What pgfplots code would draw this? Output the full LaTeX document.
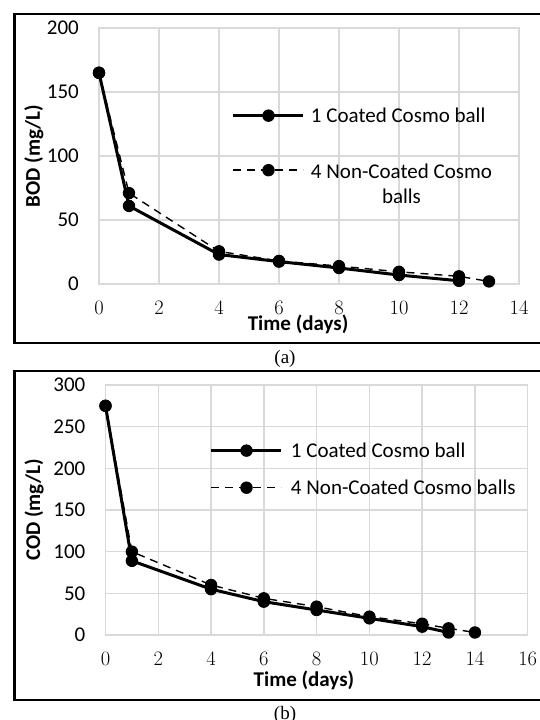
\documentclass[border=0pt]{standalone}
\usepackage{fontspec}
\setmainfont{Carlito}
\newfontfamily\capfont{Liberation Serif}
\usepackage{pgfplots}
\pgfplotsset{compat=1.18}
\definecolor{gridgray}{HTML}{D9D9D9}
\pgfplotsset{
 mystyle/.style={
  scale only axis, clip=false, enlargelimits=false,
  axis line style={draw=gridgray, line width=1.5pt},
  grid=major, grid style={draw=gridgray, line width=1.5pt},
  major tick length=0pt, tick style={draw=none},
  xtick distance=2,
  xticklabel={\fontfamily{lmr}\fontsize{20.5}{24}\selectfont\pgfmathprintnumber[assume math mode=true]{\tick}},
  xticklabel style={inner sep=0pt, anchor=north, yshift=-17pt},
  yticklabel style={font=\fontsize{21}{25}\selectfont, inner sep=0pt, anchor=east, xshift=-20pt, /pgf/number format/assume math mode=true},
  label style={font=\bfseries\fontsize{21}{25}\selectfont},
  legend cell align=left,
  legend style={draw=none, fill=none, inner sep=0pt, outer sep=0pt, font=\fontsize{21}{25}\selectfont, nodes={inner sep=0pt}},
  legend image code/.code={\draw[mark repeat=2,mark phase=2,##1] plot coordinates {(0pt,0pt) (35pt,0pt) (70pt,0pt)};},
 },
 s1/.style={black, line width=3pt, mark=*, mark size=5.7pt, mark options={solid, line width=1pt}},
 s2/.style={black, line width=1.4pt, dash pattern=on 8pt off 6pt, mark=*, mark size=5.7pt, mark options={solid, line width=1pt}},
}
\begin{document}
\begin{tikzpicture}[x=1pt,y=1pt]
\useasboundingbox (0,0) rectangle (539,720);
% outer frames
\draw[line width=2.5pt] (545,706) -- (14.4,706) -- (14.4,377) -- (545,377);
\draw[line width=2.5pt] (545,349) -- (14.4,349) -- (14.4,20) -- (545,20);
\node[font=\capfont\fontsize{19}{22}\selectfont] at (285,361) {(a)};
\node[font=\capfont\fontsize{19}{22}\selectfont] at (285,5) {(b)};

\begin{axis}[mystyle, at={(99pt,436pt)}, anchor=south west, width=420pt, height=256pt,
  xmin=0, xmax=14, ymin=0, ymax=200, ytick distance=50,
  xlabel={Time (days)}, ylabel={BOD (mg/L)},
  ylabel style={at={(axis description cs:-0.155,0.5)}, anchor=center},
  xlabel style={at={(axis description cs:0.474,-0.156)}, anchor=center},
  legend style={at={(axis cs:4.433,137.8)}, anchor=north west, row sep=37pt, column sep=6pt}]
\addplot[s1] coordinates {(0,165) (1,61) (4,23) (6,17.5) (8,12.5) (10,7) (12,2.5)};
\addlegendentry{1 Coated Cosmo ball}
\addplot[s2] coordinates {(0,165) (1,71) (4,25.5) (6,18) (8,14) (10,9.5) (12,6) (13,2)};
\addlegendentry{\raisebox{0pt}[\height][0pt]{\begin{tabular}[t]{@{}c@{}}4 Non-Coated Cosmo\\balls\end{tabular}}}
\end{axis}

\begin{axis}[mystyle, at={(105.5pt,85pt)}, anchor=south west, width=422.2pt, height=250pt,
  xmin=0, xmax=16, ymin=0, ymax=300, ytick distance=50,
  xlabel={Time (days)}, ylabel={COD (mg/L)},
  ylabel style={at={(axis description cs:-0.169,0.5)}, anchor=center},
  xlabel style={at={(axis description cs:0.470,-0.18)}, anchor=center},
  legend style={at={(axis cs:3.96,230.9)}, anchor=north west, row sep=21pt, column sep=8pt}]
\addplot[s1] coordinates {(0,275) (1,89) (4,55) (6,40) (8,30) (10,20) (12,10) (13,3)};
\addlegendentry{1 Coated Cosmo ball}
\addplot[s2] coordinates {(0,275) (1,100) (4,60) (6,44) (8,34) (10,22) (12,13.5) (13,8) (14,3)};
\addlegendentry{4 Non-Coated Cosmo balls}
\end{axis}
\end{tikzpicture}
\end{document}
